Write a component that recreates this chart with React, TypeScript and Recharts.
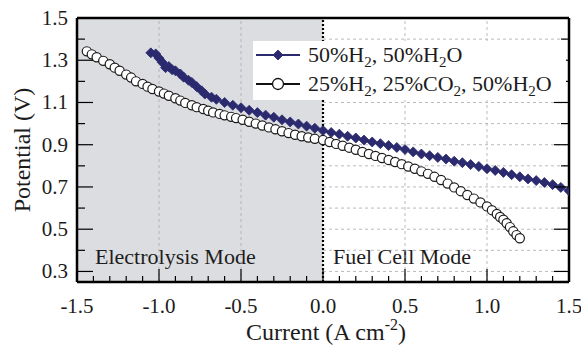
import React from "react";
import {
  CartesianGrid,
  Legend,
  ReferenceArea,
  ReferenceLine,
  Scatter,
  ScatterChart,
  XAxis,
  YAxis,
} from "recharts";

// 50%H2, 50%H2O (diamonds)
const h2Current = [
  -1.05, -1.02, -1.0, -0.98, -0.96, -0.94, -0.92, -0.9, -0.87, -0.85, -0.82,
  -0.8, -0.77, -0.74, -0.72, -0.68, -0.65, -0.6, -0.55, -0.5, -0.45, -0.4,
  -0.35, -0.3, -0.25, -0.2, -0.15, -0.1, -0.05, 0.0, 0.05, 0.1, 0.15, 0.2,
  0.25, 0.3, 0.35, 0.4, 0.45, 0.5, 0.55, 0.6, 0.65, 0.7, 0.75, 0.8, 0.85, 0.9,
  0.95, 1.0, 1.05, 1.1, 1.15, 1.2, 1.25, 1.3, 1.35, 1.4, 1.45, 1.5,
];
const h2Potential = [
  1.335, 1.33, 1.31, 1.29, 1.265, 1.27, 1.255, 1.25, 1.235, 1.22, 1.205,
  1.195, 1.175, 1.155, 1.14, 1.125, 1.115, 1.1, 1.087, 1.075, 1.063, 1.052,
  1.04, 1.03, 1.018, 1.008, 0.998, 0.988, 0.978, 0.967, 0.958, 0.95, 0.94,
  0.932, 0.922, 0.913, 0.905, 0.896, 0.887, 0.877, 0.866, 0.856, 0.848, 0.84,
  0.832, 0.822, 0.815, 0.806, 0.797, 0.786, 0.778, 0.769, 0.758, 0.748, 0.738,
  0.73, 0.721, 0.711, 0.698, 0.682,
];

// 25%H2, 25%CO2, 50%H2O (open circles)
const co2Current = [
  -1.44, -1.41, -1.38, -1.34, -1.3, -1.27, -1.24, -1.2, -1.17, -1.14, -1.1,
  -1.07, -1.04, -1.0, -0.97, -0.94, -0.9, -0.87, -0.84, -0.8, -0.77, -0.73,
  -0.7, -0.67, -0.63, -0.6, -0.56, -0.53, -0.49, -0.45, -0.41, -0.37, -0.33,
  -0.29, -0.25, -0.21, -0.17, -0.13, -0.09, -0.05, 0.0, 0.04, 0.08, 0.12,
  0.16, 0.2, 0.24, 0.28, 0.32, 0.36, 0.4, 0.44, 0.48, 0.52, 0.56, 0.6, 0.64,
  0.68, 0.72, 0.76, 0.8, 0.84, 0.88, 0.92, 0.96, 1.0, 1.03, 1.06, 1.08, 1.1,
  1.12, 1.14, 1.16, 1.18, 1.2,
];
const co2Potential = [
  1.342, 1.328, 1.314, 1.297, 1.281, 1.265, 1.25, 1.232, 1.218, 1.2, 1.188,
  1.175, 1.164, 1.152, 1.142, 1.132, 1.12, 1.109, 1.098, 1.087, 1.078, 1.069,
  1.061, 1.053, 1.046, 1.039, 1.032, 1.026, 1.018, 1.009, 1.0, 0.991, 0.982,
  0.973, 0.964, 0.955, 0.947, 0.94, 0.934, 0.928, 0.922, 0.913, 0.904, 0.895,
  0.886, 0.876, 0.866, 0.856, 0.847, 0.837, 0.828, 0.818, 0.808, 0.797, 0.786,
  0.774, 0.762, 0.748, 0.733, 0.716, 0.698, 0.68, 0.662, 0.645, 0.627, 0.608,
  0.59, 0.572, 0.558, 0.545, 0.528, 0.51, 0.49, 0.472, 0.457,
];

const xMajorTicks = [-1.5, -1.0, -0.5, 0.0, 0.5, 1.0, 1.5];
const xMinorTicks = [
  -1.4, -1.3, -1.2, -1.1, -0.9, -0.8, -0.7, -0.6, -0.4, -0.3, -0.2, -0.1, 0.1,
  0.2, 0.3, 0.4, 0.6, 0.7, 0.8, 0.9, 1.1, 1.2, 1.3, 1.4,
];
const yMajorTicks = [0.3, 0.5, 0.7, 0.9, 1.1, 1.3, 1.5];
const yMinorTicks = [0.4, 0.6, 0.8, 1.0, 1.2, 1.4];
const xGridLines = [-1.0, -0.5, 0.5, 1.0];

const h2Data = h2Current.map((x, i) => ({ x, y: h2Potential[i] }));
const co2Data = co2Current.map((x, i) => ({ x, y: co2Potential[i] }));
const xTicks = [...xMajorTicks, ...xMinorTicks].sort((a, b) => a - b);
const yTicks = [...yMajorTicks, ...yMinorTicks].sort((a, b) => a - b);

const FONT = '"Liberation Serif", "Times New Roman", serif';
const INK = "#1c1c1c";
const NAVY = "#2b2a6e";
const SHADE = "#dcdde1";

const isMajor = (list: number[], v: number) =>
  list.some((m) => Math.abs(m - v) < 1e-6);

const BottomTick = (props: any) => {
  const { x, y, payload } = props;
  const major = isMajor(xMajorTicks, payload.value);
  return (
    <g>
      <line x1={x} y1={y} x2={x} y2={y - (major ? 13 : 6)} stroke="#000" strokeWidth={1.2} />
      {major && (
        <text x={x} y={y + 31} textAnchor="middle" fontFamily={FONT} fontSize={21} fill={INK}>
          {payload.value.toFixed(1)}
        </text>
      )}
    </g>
  );
};

const TopTick = (props: any) => {
  const { x, y, payload } = props;
  const major = isMajor(xMajorTicks, payload.value);
  return <line x1={x} y1={y} x2={x} y2={y + (major ? 15 : 7)} stroke="#000" strokeWidth={1.2} />;
};

const LeftTick = (props: any) => {
  const { x, y, payload } = props;
  const major = isMajor(yMajorTicks, payload.value);
  return (
    <g>
      <line x1={x} y1={y} x2={x + (major ? 16 : 8)} y2={y} stroke="#000" strokeWidth={1.2} />
      {major && (
        <text x={x - 9} y={y + 7} textAnchor="end" fontFamily={FONT} fontSize={21} fill={INK}>
          {payload.value.toFixed(1)}
        </text>
      )}
    </g>
  );
};

const RightTick = (props: any) => {
  const { x, y, payload } = props;
  const major = isMajor(yMajorTicks, payload.value);
  return <line x1={x} y1={y} x2={x - (major ? 15 : 8)} y2={y} stroke="#000" strokeWidth={1.2} />;
};

const Diamond = (props: any) => {
  const { cx, cy } = props;
  if (cx == null || cy == null) return null;
  const s = 5;
  return (
    <polygon
      points={`${cx},${cy - s} ${cx + s},${cy} ${cx},${cy + s} ${cx - s},${cy}`}
      fill={NAVY}
      stroke={NAVY}
      strokeWidth={0.8}
    />
  );
};

const OpenCircle = (props: any) => {
  const { cx, cy } = props;
  if (cx == null || cy == null) return null;
  return <circle cx={cx} cy={cy} r={4.6} fill="#fff" stroke="#1a1a1a" strokeWidth={1.2} />;
};

const XTitle = (props: any) => {
  const { viewBox } = props;
  return (
    <text
      x={viewBox.x + viewBox.width / 2 + 3}
      y={viewBox.y + 58}
      textAnchor="middle"
      fontFamily={FONT}
      fontSize={24}
      fill={INK}
    >
      Current (A cm
      <tspan dy={-10} fontSize={16}>-2</tspan>
      <tspan dy={10}>)</tspan>
    </text>
  );
};

const YTitle = (props: any) => {
  const { viewBox } = props;
  const cx = 22;
  const cy = viewBox.y + viewBox.height / 2;
  return (
    <text
      x={cx}
      y={cy}
      transform={`rotate(-90 ${cx} ${cy})`}
      textAnchor="middle"
      dominantBaseline="central"
      fontFamily={FONT}
      fontSize={24}
      fill={INK}
    >
      Potential (V)
    </text>
  );
};

const modeLabel = (text: string, dx: number) => (props: any) => {
  const { viewBox } = props;
  return (
    <text
      x={viewBox.x + dx}
      y={viewBox.y + viewBox.height - 18}
      fontFamily={FONT}
      fontSize={22}
      fill={INK}
    >
      {text}
    </text>
  );
};

const LegendBox = () => (
  <svg width={313} height={59}>
    <rect x={0} y={0} width={313} height={59} fill="#fff" />
    <line x1={3} y1={14} x2={47} y2={14} stroke={NAVY} strokeWidth={2} />
    <Diamond cx={25} cy={14} />
    <text x={55} y={21} fontFamily={FONT} fontSize={22} fill={INK}>
      50%H<tspan dy={5} fontSize={15}>2</tspan>
      <tspan dy={-5}>, 50%H</tspan>
      <tspan dy={5} fontSize={15}>2</tspan>
      <tspan dy={-5}>O</tspan>
    </text>
    <line x1={3} y1={43} x2={47} y2={43} stroke="#111" strokeWidth={2} />
    <circle cx={25} cy={43} r={5.5} fill="#fff" stroke="#111" strokeWidth={1.3} />
    <text x={55} y={50} fontFamily={FONT} fontSize={22} fill={INK}>
      25%H<tspan dy={5} fontSize={15}>2</tspan>
      <tspan dy={-5}>, 25%CO</tspan>
      <tspan dy={5} fontSize={15}>2</tspan>
      <tspan dy={-5}>, 50%H</tspan>
      <tspan dy={5} fontSize={15}>2</tspan>
      <tspan dy={-5}>O</tspan>
    </text>
  </svg>
);

const PotentialChart = () => {
  return (
    <div style={{ position: "absolute", left: 0, top: 0, background: "#fff" }}>
      <ScatterChart
        width={581}
        height={354}
        margin={{ top: 0, right: 0, left: 0, bottom: 0 }}
      >
        <XAxis
          xAxisId="b"
          dataKey="x"
          type="number"
          domain={[-1.5, 1.5]}
          ticks={xTicks}
          interval={0}
          height={72}
          tickSize={0}
          tickMargin={0}
          tick={<BottomTick />}
          tickLine={false}
          axisLine={{ stroke: "#000", strokeWidth: 2.5 }}
          allowDataOverflow
          label={<XTitle />}
        />
        <XAxis
          xAxisId="t"
          orientation="top"
          type="number"
          domain={[-1.5, 1.5]}
          ticks={xTicks}
          interval={0}
          height={18}
          tickSize={0}
          tickMargin={0}
          tick={<TopTick />}
          tickLine={false}
          axisLine={{ stroke: "#000", strokeWidth: 2.5 }}
          allowDataOverflow
        />
        <YAxis
          yAxisId="l"
          dataKey="y"
          type="number"
          domain={[0.25, 1.5]}
          ticks={yTicks}
          interval={0}
          width={77}
          tickSize={0}
          tickMargin={0}
          tick={<LeftTick />}
          tickLine={false}
          axisLine={{ stroke: "#000", strokeWidth: 2.5 }}
          allowDataOverflow
          label={<YTitle />}
        />
        <YAxis
          yAxisId="r"
          orientation="right"
          type="number"
          domain={[0.25, 1.5]}
          ticks={yTicks}
          interval={0}
          width={12}
          tickSize={0}
          tickMargin={0}
          tick={<RightTick />}
          tickLine={false}
          axisLine={{ stroke: "#000", strokeWidth: 2.5 }}
          allowDataOverflow
        />
        <ReferenceArea
          xAxisId="b"
          yAxisId="l"
          x1={-1.5}
          x2={0}
          y1={0.25}
          y2={1.5}
          fill={SHADE}
          fillOpacity={1}
          stroke="none"
          label={modeLabel("Electrolysis Mode", 18)}
        />
        <ReferenceArea
          xAxisId="b"
          yAxisId="l"
          x1={0}
          x2={1.5}
          y1={0.25}
          y2={1.5}
          fill="none"
          stroke="none"
          label={modeLabel("Fuel Cell Mode", 10)}
        />
        <CartesianGrid
          xAxisId="b"
          yAxisId="l"
          vertical={false}
          horizontalValues={yTicks}
          stroke="#a9a9ad"
          strokeDasharray="3 3"
          strokeWidth={0.8}
        />
        {xGridLines.map((v) => (
          <ReferenceLine
            key={v}
            xAxisId="b"
            yAxisId="l"
            x={v}
            stroke="#a9a9ad"
            strokeDasharray="3 3"
            strokeWidth={0.8}
          />
        ))}
        <ReferenceLine
          xAxisId="b"
          yAxisId="l"
          x={0}
          stroke="#000"
          strokeDasharray="2 2"
          strokeWidth={2.2}
        />
        <Legend
          layout="vertical"
          align="center"
          verticalAlign="middle"
          content={() => <LegendBox />}
          wrapperStyle={{ left: 253, top: 41, width: 313, height: 59 }}
        />
        <Scatter
          name="50%H2, 50%H2O"
          xAxisId="b"
          yAxisId="l"
          data={h2Data}
          line={{ stroke: NAVY, strokeWidth: 1.5 }}
          lineType="joint"
          shape={<Diamond />}
          isAnimationActive={false}
        />
        <Scatter
          name="25%H2, 25%CO2, 50%H2O"
          xAxisId="b"
          yAxisId="l"
          data={co2Data}
          line={{ stroke: "#1a1a1a", strokeWidth: 1 }}
          lineType="joint"
          shape={<OpenCircle />}
          isAnimationActive={false}
        />
      </ScatterChart>
    </div>
  );
};

export default PotentialChart;
